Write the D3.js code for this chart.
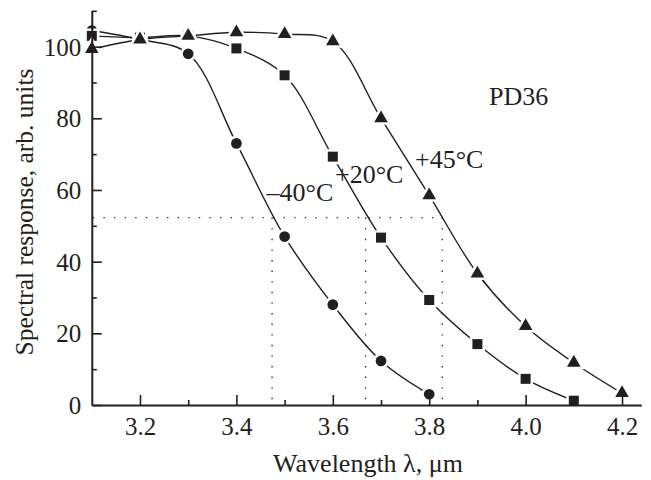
<!DOCTYPE html>
<html>
<head>
<meta charset="utf-8">
<script src="https://cdn.jsdelivr.net/npm/d3@7"></script>
<style>
  html, body { margin: 0; padding: 0; background: #fff; }
  svg { display: block; }
  text { font-family: "Liberation Serif", "Times New Roman", serif; fill: #231f20; }
</style>
</head>
<body>
<svg id="chart" width="651" height="480"></svg>
<script>
// Wavelength grid, µm
const wavelengths = [3.1, 3.2, 3.3, 3.4, 3.5, 3.6, 3.7, 3.8, 3.9, 4.0, 4.1, 4.2];

// Spectral response (arb. units) at three temperatures
const respMinus40 = [104.5, 102, 98, 73, 47, 28, 12.3, 3];
const respPlus20  = [103, 102.5, 103, 99.5, 92, 69.3, 46.7, 29.3, 17, 7.3, 1.2];
const respPlus45  = [99.3, 102, 103, 104, 103.5, 101.5, 80, 58.5, 36.7, 22, 11.8, 3.3];

const seriesNames = ["–40°C", "+20°C", "+45°C"];

// Axis ticks
const xMajorTicks = [3.2, 3.4, 3.6, 3.8, 4.0, 4.2];
const xMinorTicks = [3.3, 3.5, 3.7, 3.9, 4.1];
const yMajorTicks = [0, 20, 40, 60, 80, 100];
const yMinorTicks = [10, 30, 50, 70, 90, 110];

// Cut-off level and the wavelengths where each curve crosses it
const cutLevel = 52.3;
const cutWavelengths = [3.474, 3.668, 3.827];

const svg = d3.select("#chart");
const ink = "#231f20";

const x = d3.scaleLinear().domain([3.1, 4.24]).range([91.8, 641.3]);
const y = d3.scaleLinear().domain([0, 110]).range([405, 10.8]);

// Dotted guide lines
const guides = svg.append("g")
  .attr("stroke", "#333")
  .attr("stroke-width", 1.4)
  .attr("stroke-dasharray", "1.4,9.2")
  .attr("fill", "none");
guides.append("line")
  .attr("x1", x(3.1) + 1).attr("x2", x(d3.max(cutWavelengths)))
  .attr("y1", y(cutLevel)).attr("y2", y(cutLevel));
cutWavelengths.forEach(w => {
  guides.append("line")
    .attr("x1", x(w)).attr("x2", x(w))
    .attr("y1", y(cutLevel)).attr("y2", y(0) - 1);
});

// Curves
const series = [respMinus40, respPlus20, respPlus45].map((vals, i) => ({
  name: seriesNames[i],
  points: vals.map((v, j) => ({ w: wavelengths[j], v }))
}));

const line = d3.line()
  .x(d => x(d.w))
  .y(d => y(d.v))
  .curve(d3.curveCatmullRom.alpha(0.5));

svg.append("g")
  .selectAll("path")
  .data(series)
  .join("path")
  .attr("d", d => line(d.points))
  .attr("fill", "none")
  .attr("stroke", ink)
  .attr("stroke-width", 1.4);

// Markers: circle, square, triangle, each with a white halo
const symbols = [d3.symbolCircle, d3.symbolSquare, d3.symbolTriangle];
const sizes = [90, 100, 80];

series.forEach((s, i) => {
  const sym = d3.symbol().type(symbols[i]).size(sizes[i]);
  svg.append("g")
    .selectAll("path")
    .data(s.points)
    .join("path")
    .attr("transform", d => `translate(${x(d.w)},${y(d.v)})`)
    .attr("d", sym)
    .attr("fill", ink)
    .attr("stroke", "#fff")
    .attr("stroke-width", 5)
    .attr("paint-order", "stroke");
});

// Axes with inward ticks
function styleAxis(g) {
  g.select(".domain").attr("stroke", ink).attr("stroke-width", 2);
  g.selectAll(".tick line").attr("stroke", ink).attr("stroke-width", 1.6);
}

const xAxis = svg.append("g")
  .attr("transform", `translate(0,${y(0)})`)
  .call(d3.axisBottom(x).tickValues(xMajorTicks).tickSize(-10).tickSizeOuter(0)
    .tickFormat(d3.format(".1f")));
styleAxis(xAxis);
xAxis.selectAll(".tick text")
  .attr("y", 30).attr("dy", 0)
  .style("font-size", "25px")
  .attr("fill", ink);

svg.append("g")
  .attr("transform", `translate(0,${y(0)})`)
  .call(d3.axisBottom(x).tickValues(xMinorTicks).tickSize(-5).tickSizeOuter(0).tickFormat(""))
  .call(g => { g.select(".domain").remove(); styleAxis(g); });

const yAxis = svg.append("g")
  .attr("transform", `translate(${x(3.1)},0)`)
  .call(d3.axisLeft(y).tickValues(yMajorTicks).tickSize(-10).tickSizeOuter(0));
styleAxis(yAxis);
yAxis.selectAll(".tick text")
  .attr("x", -10.5).attr("dy", "0.34em")
  .style("font-size", "25px")
  .attr("fill", ink);

svg.append("g")
  .attr("transform", `translate(${x(3.1)},0)`)
  .call(d3.axisLeft(y).tickValues(yMinorTicks).tickSize(-5).tickSizeOuter(0).tickFormat(""))
  .call(g => { g.select(".domain").remove(); styleAxis(g); });

// Axis titles
svg.append("text")
  .attr("x", 368).attr("y", 471.5)
  .attr("text-anchor", "middle")
  .style("font-size", "26px")
  .text("Wavelength λ, μm");

svg.append("text")
  .attr("transform", "translate(33,212) rotate(-90)")
  .attr("text-anchor", "middle")
  .style("font-size", "25.5px")
  .text("Spectral response, arb. units");

// Curve labels and device name
const labelPos = [[266.5, 200.5], [335, 183], [415, 168]];
svg.append("g")
  .selectAll("text")
  .data(seriesNames)
  .join("text")
  .attr("x", (d, i) => labelPos[i][0])
  .attr("y", (d, i) => labelPos[i][1])
  .style("font-size", "26px")
  .text(d => d);

svg.append("text")
  .attr("x", 489).attr("y", 105)
  .style("font-size", "26px")
  .text("PD36");
</script>
</body>
</html>
